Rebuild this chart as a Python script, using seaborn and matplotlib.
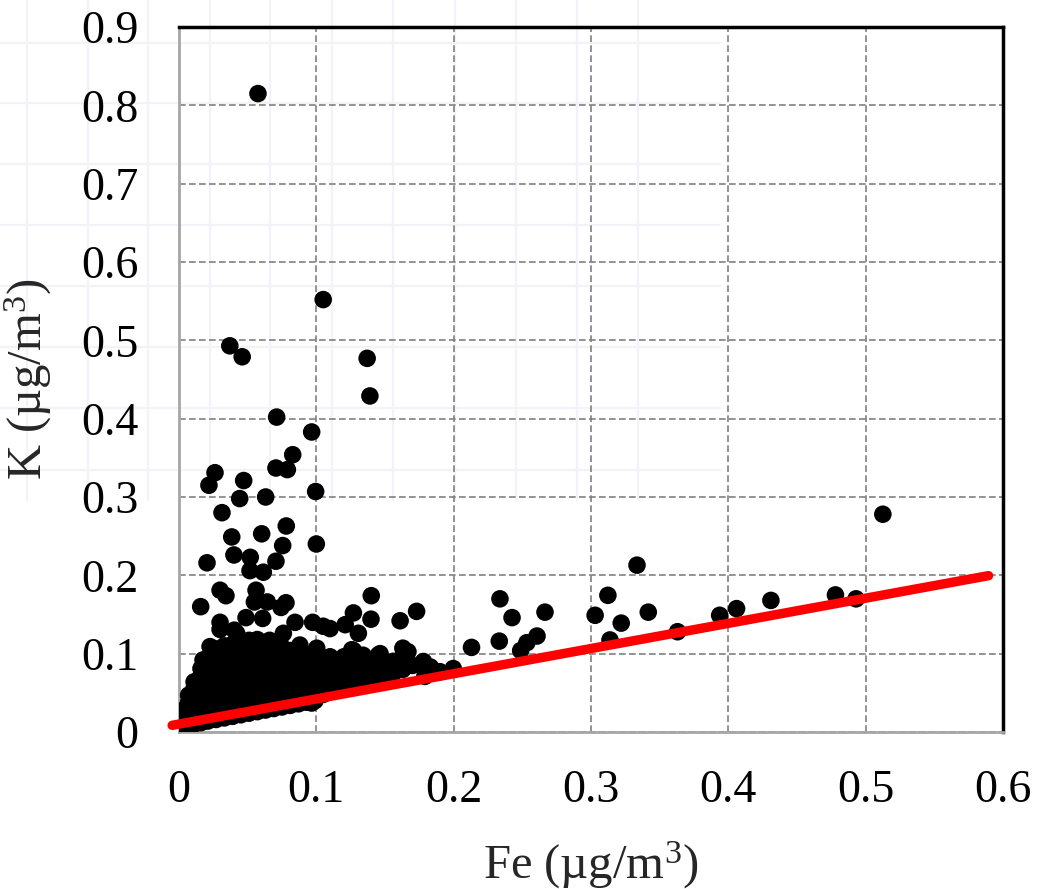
import numpy as np
import pandas as pd
import matplotlib
matplotlib.use("Agg")
import matplotlib.pyplot as plt
import seaborn as sns

# ---------------- data ----------------
# scattered / isolated samples
fe_sparse = [0.0575, 0.105, 0.037, 0.046, 0.137, 0.139, 0.0711, 0.0966, 0.0828, 0.0706,
             0.0789, 0.0262, 0.0218, 0.0471, 0.0442, 0.0631, 0.0995, 0.0313, 0.0781, 0.0602,
             0.0384, 0.0755, 0.1000, 0.040, 0.0519, 0.0204, 0.0706, 0.0517, 0.0614, 0.0299,
             0.0342, 0.0561, 0.0549, 0.0643, 0.0779, 0.0743, 0.0158, 0.140, 0.127, 0.173,
             0.1398, 0.121, 0.1306, 0.161, 0.0845, 0.0973, 0.105, 0.110, 0.0299, 0.0299,
             0.0488, 0.0609, 0.0403, 0.163, 0.1667, 0.156, 0.145, 0.178, 0.179, 0.190,
             0.1997, 0.183, 0.213, 0.1464, 0.1258, 0.134, 0.110, 0.1003, 0.088, 0.0735,
             0.0966, 0.076, 0.066, 0.042, 0.0226, 0.0175, 0.1195,
             0.2337, 0.2332, 0.2425, 0.2665, 0.2607, 0.2533, 0.2488, 0.303, 0.3123, 0.322,
             0.3138, 0.3335, 0.3417, 0.363, 0.3937, 0.406, 0.431, 0.478, 0.493, 0.5125]
k_sparse = [0.815, 0.552, 0.493, 0.479, 0.477, 0.429, 0.402, 0.383, 0.354, 0.337,
            0.335, 0.331, 0.315, 0.321, 0.298, 0.300, 0.307, 0.280, 0.263, 0.253,
            0.249, 0.238, 0.240, 0.226, 0.223, 0.216, 0.218, 0.206, 0.204, 0.181,
            0.174, 0.181, 0.166, 0.166, 0.165, 0.159, 0.160, 0.174, 0.152, 0.154,
            0.144, 0.137, 0.126, 0.142, 0.140, 0.140, 0.135, 0.132, 0.140, 0.131,
            0.146, 0.145, 0.130, 0.107, 0.1025, 0.090, 0.098, 0.090, 0.071, 0.077,
            0.081, 0.083, 0.108, 0.100, 0.105, 0.096, 0.096, 0.107, 0.111, 0.114,
            0.037, 0.126, 0.117, 0.126, 0.109, 0.092, 0.075,
            0.170, 0.116, 0.146, 0.153, 0.1225, 0.114, 0.104, 0.149, 0.1745, 0.139,
            0.1175, 0.213, 0.153, 0.128, 0.149, 0.1575, 0.168, 0.175, 0.170, 0.278]

# the dense block of low-concentration samples near the origin
fe_dense = ([0.003] * 3 + [0.007] * 5 + [0.011] * 6 + [0.016] * 7 + [0.021] * 8 +
            [0.027] * 9 + [0.033] * 9 + [0.039] * 9 + [0.045] * 9 + [0.051] * 9 +
            [0.057] * 9 + [0.063] * 8 + [0.069] * 8 + [0.075] * 7 + [0.081] * 7 +
            [0.087] * 7 + [0.093] * 6 + [0.099] * 6 + [0.105] * 5 + [0.110] * 4 +
            [0.120] * 4 + [0.127] * 5 + [0.134] * 4 + [0.140] * 3 + [0.148] * 3 +
            [0.156] * 2 + [0.163] * 2 + [0.170] * 1)
k_dense = [0.008, 0.018, 0.028,
           0.006, 0.016, 0.027, 0.038, 0.047,
           0.010, 0.021, 0.033, 0.045, 0.056, 0.064,
           0.012, 0.024, 0.036, 0.048, 0.060, 0.072, 0.081,
           0.014, 0.026, 0.038, 0.050, 0.062, 0.074, 0.086, 0.094,
           0.016, 0.028, 0.040, 0.052, 0.064, 0.076, 0.088, 0.099, 0.106,
           0.018, 0.030, 0.042, 0.054, 0.066, 0.078, 0.090, 0.101, 0.110,
           0.020, 0.032, 0.044, 0.056, 0.068, 0.080, 0.092, 0.103, 0.112,
           0.022, 0.034, 0.046, 0.058, 0.070, 0.082, 0.094, 0.105, 0.114,
           0.024, 0.036, 0.048, 0.060, 0.072, 0.084, 0.096, 0.107, 0.117,
           0.026, 0.038, 0.050, 0.062, 0.074, 0.086, 0.098, 0.108, 0.118,
           0.028, 0.040, 0.052, 0.064, 0.076, 0.088, 0.099, 0.110,
           0.030, 0.042, 0.054, 0.066, 0.078, 0.090, 0.101, 0.111,
           0.032, 0.044, 0.056, 0.068, 0.080, 0.092, 0.103,
           0.034, 0.046, 0.058, 0.070, 0.082, 0.094, 0.104,
           0.036, 0.048, 0.060, 0.072, 0.084, 0.096, 0.104,
           0.038, 0.050, 0.062, 0.074, 0.086, 0.098,
           0.040, 0.052, 0.064, 0.076, 0.088, 0.099,
           0.048, 0.060, 0.072, 0.084, 0.093,
           0.052, 0.064, 0.076, 0.086,
           0.060, 0.072, 0.084, 0.096,
           0.058, 0.070, 0.082, 0.094, 0.104,
           0.062, 0.074, 0.086, 0.098,
           0.064, 0.076, 0.088,
           0.068, 0.080, 0.092,
           0.075, 0.090,
           0.080, 0.096,
           0.085]

# red reference line (end points)
fit_fe = [-0.005, 0.5895]
fit_k = [0.0085, 0.1996]

x_ticks = [0, 0.1, 0.2, 0.3, 0.4, 0.5, 0.6]
x_tick_labels = ["0", "0.1", "0.2", "0.3", "0.4", "0.5", "0.6"]
y_ticks = [0, 0.1, 0.2, 0.3, 0.4, 0.5, 0.6, 0.7, 0.8, 0.9]
y_tick_labels = ["0", "0.1", "0.2", "0.3", "0.4", "0.5", "0.6", "0.7", "0.8", "0.9"]

df = pd.DataFrame({"Fe": fe_dense + fe_sparse, "K": k_dense + k_sparse})
fit_df = pd.DataFrame({"Fe": fit_fe, "K": fit_k})

# ---------------- style ----------------
sns.set_style("white")
plt.rcParams["font.family"] = ["Liberation Serif", "DejaVu Serif"]
plt.rcParams["mathtext.fontset"] = "custom"
plt.rcParams["mathtext.rm"] = "Liberation Serif"
plt.rcParams["mathtext.it"] = "Liberation Serif:italic"

fig = plt.figure(figsize=(10.37, 8.89), dpi=100)
fig.patch.set_facecolor("white")

# faint background grid of the source page (upper-left area)
bg_col = "#f3f2f8"
for px in [27, 88, 148, 210, 270, 332, 393, 455, 516, 577, 638]:
    fig.add_artist(plt.Line2D([px / 1037, px / 1037], [1.0, 1 - 500 / 889],
                              color=bg_col, lw=1.6, zorder=0))
for py in [43, 103, 164, 225, 286, 347, 408, 470]:
    fig.add_artist(plt.Line2D([0, 720 / 1037], [1 - py / 889, 1 - py / 889],
                              color=bg_col, lw=1.6, zorder=0))

ax = fig.add_axes([179 / 1037, 1 - 732 / 889, (1003 - 179) / 1037, (732 - 27) / 889])
ax.patch.set_alpha(0)
ax.set_zorder(1)

sns.scatterplot(data=df, x="Fe", y="K", ax=ax, color="black", s=160,
                edgecolor="none", linewidth=0, zorder=3, legend=False)
sns.lineplot(data=fit_df, x="Fe", y="K", ax=ax, color="#ff0000", linewidth=6.8,
             zorder=4, estimator=None, sort=False, clip_on=False)

ax.set_xlim(0, 0.6)
ax.set_ylim(0, 0.9)
ax.set_xticks(x_ticks)
ax.set_xticklabels(x_tick_labels)
ax.set_yticks(y_ticks)
ax.set_yticklabels(y_tick_labels)
ax.tick_params(axis="both", length=0, labelsize=33, colors="black")
ax.tick_params(axis="x", pad=27)
ax.tick_params(axis="y", pad=29)

ax.grid(True, color="#808080", linestyle=(0, (4, 2)), linewidth=1.2)
ax.set_axisbelow(True)

for side in ["left", "bottom"]:
    ax.spines[side].set_color("#a6a6a6")
    ax.spines[side].set_linewidth(2)
for side in ["top", "right"]:
    ax.spines[side].set_color("black")
    ax.spines[side].set_linewidth(2.5)

ax.set_xlabel("Fe (\u00b5g/m$^{3}$)", fontsize=35)
ax.set_ylabel("K (\u00b5g/m$^{3}$)", fontsize=35)
ax.xaxis.set_label_coords(0.5, -0.152)
ax.yaxis.set_label_coords(-0.152, 0.5)

fig.savefig("out.png", dpi=100, facecolor="white")
